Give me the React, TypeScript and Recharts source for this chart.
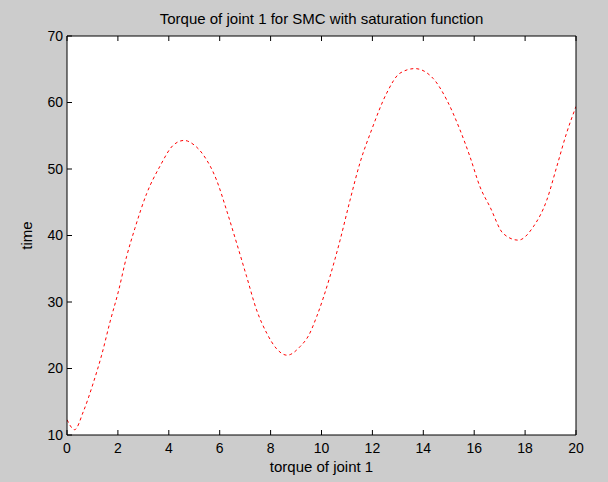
import { LineChart, Line, XAxis, YAxis, CartesianGrid } from "recharts";

const titleText = "Torque of joint 1 for SMC with saturation function";
const xLabel = "torque of joint 1";
const yLabel = "time";

const xTicks = [0, 2, 4, 6, 8, 10, 12, 14, 16, 18, 20];
const yTicks = [10, 20, 30, 40, 50, 60, 70];

const xs = [
  0, 0.3, 0.64, 1.03, 1.36, 1.69, 2.02, 2.34, 2.67, 3.13, 3.65, 4.18, 4.6, 5.0, 5.36, 5.88, 6.27,
  6.67, 7.06, 7.45, 7.85, 8.25, 8.65, 9.16, 9.5, 9.81, 10.33, 10.73, 11.12, 11.51, 11.97, 12.56,
  13.08, 13.67, 14.39, 14.92, 15.44, 15.83, 16.23, 16.62, 17.14, 17.73, 18.32, 18.85, 19.24,
  19.63, 20,
];
const torque = [
  12.3, 10.8, 13.5, 17.8, 22, 27, 31.6, 36.8, 41.1, 46.3, 50.4, 53.6, 54.3, 53.6, 52.1, 48.3, 43.8,
  38.8, 33.8, 28.8, 25.3, 22.9, 22, 23.3, 25, 27.8, 33.8, 39.3, 45.3, 50.9, 55.9, 61.4, 64.4,
  65.1, 63.6, 60.4, 55.9, 51.9, 47.3, 44.3, 40.3, 39.3, 41.3, 45.3, 50.3, 55.4, 59.4,
];

const data = xs.map((x, i) => ({ x, y: torque[i] }));

const font = "'Liberation Sans', Arial, sans-serif";
const tickStyle = { fontSize: 14, fontFamily: font, fill: "#000" };
const labelStyle = { fontSize: 15, fontFamily: font, fill: "#000" };

export default function App() {
  return (
    <div style={{ position: "absolute", left: 0, top: 0, width: 608, height: 482, background: "#cccccc" }}>
      <div
        style={{
          position: "absolute",
          left: 67,
          width: 509,
          top: 10,
          textAlign: "center",
          fontFamily: font,
          fontSize: 15,
          color: "#000",
        }}
      >
        {titleText}
      </div>
      <LineChart width={608} height={482} data={data} margin={{ top: 35, right: 31, bottom: 0, left: 0 }}>
        <CartesianGrid horizontal={false} vertical={false} fill="#ffffff" />
        <XAxis
          xAxisId="b"
          dataKey="x"
          type="number"
          domain={[0, 20]}
          ticks={xTicks}
          interval={0}
          allowDataOverflow
          stroke="#000"
          tickSize={-5}
          tickMargin={13}
          height={47}
          tick={tickStyle}
          label={{ value: xLabel, position: "insideBottom", offset: 10, style: labelStyle }}
        />
        <XAxis
          xAxisId="t"
          dataKey="x"
          type="number"
          orientation="top"
          domain={[0, 20]}
          ticks={xTicks}
          interval={0}
          stroke="#000"
          tickSize={-5}
          height={1}
          tickFormatter={() => ""}
        />
        <YAxis
          yAxisId="l"
          type="number"
          domain={[10, 70]}
          ticks={yTicks}
          interval={0}
          allowDataOverflow
          stroke="#000"
          tickSize={-5}
          tickMargin={9}
          width={67}
          tick={tickStyle}
          label={{ value: yLabel, angle: -90, position: "insideLeft", offset: 27, style: { ...labelStyle, textAnchor: "middle" } }}
        />
        <YAxis
          yAxisId="r"
          orientation="right"
          type="number"
          domain={[10, 70]}
          ticks={yTicks}
          interval={0}
          stroke="#000"
          tickSize={-5}
          width={1}
          tickFormatter={() => ""}
        />
        <Line
          xAxisId="b"
          yAxisId="l"
          type="monotone"
          dataKey="y"
          stroke="#ff0000"
          strokeWidth={1}
          strokeDasharray="3 3"
          dot={false}
          isAnimationActive={false}
        />
      </LineChart>
    </div>
  );
}
